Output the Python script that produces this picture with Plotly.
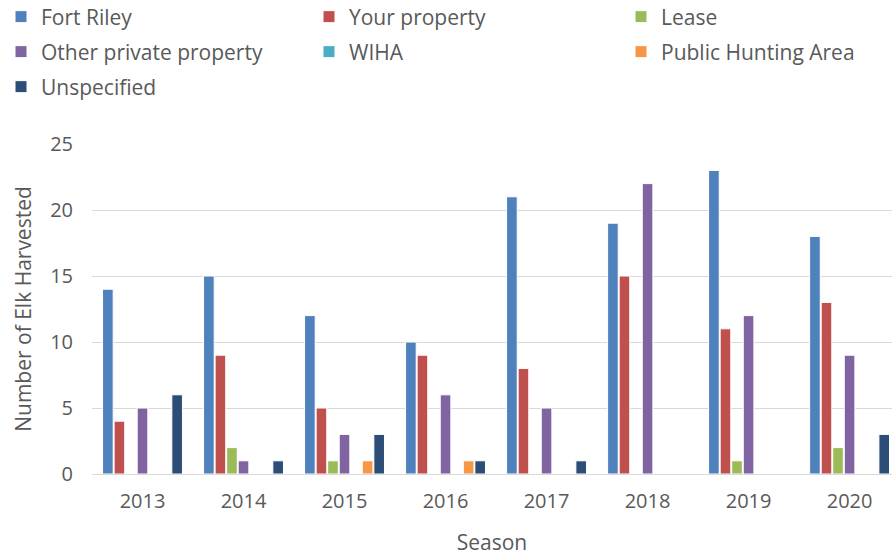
import plotly.graph_objects as go

# Seasons on the x axis
seasons = ["2013", "2014", "2015", "2016", "2017", "2018", "2019", "2020"]

# Elk harvested by land type
fort_riley = [14, 15, 12, 10, 21, 19, 23, 18]
your_property = [4, 9, 5, 9, 8, 15, 11, 13]
lease = [0, 2, 1, 0, 0, 0, 1, 2]
other_private = [5, 1, 3, 6, 5, 22, 12, 9]
wiha = [0, 0, 0, 0, 0, 0, 0, 0]
public_hunting = [0, 0, 1, 1, 0, 0, 0, 0]
unspecified = [6, 1, 3, 1, 1, 0, 0, 3]

series_names = ["Fort Riley", "Your property", "Lease", "Other private property",
                "WIHA", "Public Hunting Area", "Unspecified"]
series_values = [fort_riley, your_property, lease, other_private,
                 wiha, public_hunting, unspecified]
series_colors = ["#4F81BD", "#C0504D", "#9BBB59", "#8064A2",
                 "#4BACC6", "#F79646", "#2C4D75"]

font_family = "Open Sans, Noto Sans, sans-serif"
grey = "#595959"

# Excel-style legend grid: 3 columns, 3 rows (pixel positions in the figure)
col_x = [1, 309, 621]
row_y = [17, 52, 87]
W, H = 892, 556

fig = go.Figure()
legends = {}
for i, (name, vals, color) in enumerate(zip(series_names, series_values, series_colors)):
    key = "legend" if i == 0 else f"legend{i + 1}"
    fig.add_trace(go.Bar(
        x=seasons,
        y=vals,
        name=name,
        legend=key,
        showlegend=True,
        marker=dict(color=color, line=dict(color="white", width=1)),
    ))
    # each entry gets its own small legend so the grid spacing matches
    legends[key] = dict(
        orientation="h",
        x=col_x[i % 3] / W, y=1 - row_y[i // 3] / H,
        xref="container", yref="container",
        xanchor="left", yanchor="middle",
        font=dict(size=21, color=grey),
        itemwidth=30,
        bgcolor="rgba(0,0,0,0)",
        visible=True,
    )

fig.update_layout(
    width=W,
    height=H,
    showlegend=True,
    barmode="group",
    bargap=0.2,
    bargroupgap=0.08,
    plot_bgcolor="white",
    paper_bgcolor="white",
    font=dict(family=font_family, color=grey, size=20),
    margin=dict(l=92, r=0, t=144, b=82),
    xaxis=dict(
        title=dict(text="Season", font=dict(size=21, color=grey), standoff=24),
        range=[-0.5, 7.42],
        showgrid=False,
        showline=False,
        ticks="",
        ticklabelstandoff=13,
        tickfont=dict(size=20, color=grey),
    ),
    yaxis=dict(
        title=dict(text="Number of Elk Harvested", font=dict(size=21, color=grey), standoff=12),
        range=[0, 25],
        dtick=5,
        showgrid=True,
        gridcolor="#D9D9D9",
        gridwidth=1,
        zeroline=True,
        zerolinecolor="#D9D9D9",
        zerolinewidth=1,
        ticks="",
        ticklabelstandoff=18,
        tickfont=dict(size=20, color=grey),
    ),
    **legends,
)

fig.write_html(
    "out.html",
    config={"displayModeBar": False},
    post_script="document.body.style.margin='0px';",
)
